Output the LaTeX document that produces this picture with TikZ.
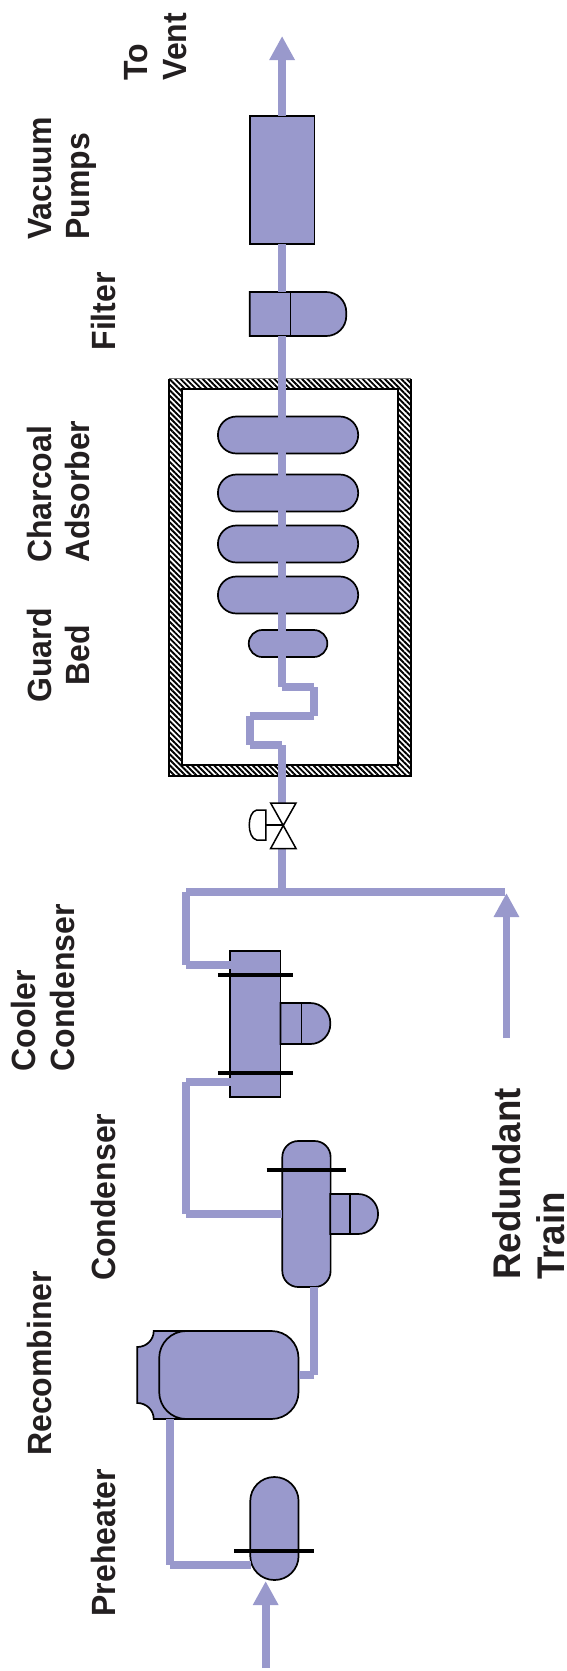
\documentclass[tikz,border=0pt]{standalone}
\usepackage{fontspec}
\setmainfont{Liberation Sans}
\usetikzlibrary{arrows.meta,patterns.meta}
\definecolor{pipecol}{HTML}{9999CC}
\definecolor{inkcol}{HTML}{231F20}
\newcommand{\tallA}[1]{\scalebox{1}[1.05]{#1}}
\tikzset{
  lab/.style={rotate=90,anchor=base west,inner sep=0pt,text=inkcol,font=\bfseries\fontsize{32}{36}\selectfont},
  labbig/.style={lab,font=\bfseries\fontsize{36.7}{42}\selectfont},
  equip/.style={draw=black,fill=pipecol,line width=1.7pt},
  box/.style={equip,rectangle,inner sep=0pt,outer sep=0pt},
  pipe/.style={draw=pipecol,line width=7.7pt,line cap=butt},
  feed/.style={pipe,-{Triangle[length=24pt,width=24pt]}},
  bar/.style={draw=black,line width=3.6pt},
  valvepart/.style={draw=black,fill=white,line width=1.5pt,line join=miter},
}
\begin{document}
\begin{tikzpicture}[x=0.995pt,y=-1pt]
\useasboundingbox (0,0) rectangle (569.85,1671);
% insulated enclosure
\path[pattern={Lines[angle=-45,distance=3.9pt,line width=1.9pt]},pattern color=black,even odd rule]
  (170,379) rectangle (413,776) (183,389) rectangle (400,765);
\draw[black!55,line width=0.8pt] (170,378.6) -- (413,378.6);
\draw[black,line width=1.7pt] (170,378.6) -- (170,776) -- (413,776) -- (413,378.6);
\draw[black,line width=2pt] (183,389) rectangle (400,765);
% adsorbers
\node[box,minimum width=140.3pt,minimum height=37pt,rounded corners=18.5pt] (ads1) at (289.5,435) {};
\node[box,minimum width=140.3pt,minimum height=37pt,rounded corners=18.5pt] (ads2) at (289.5,493) {};
\node[box,minimum width=140.3pt,minimum height=37pt,rounded corners=18.5pt] (ads3) at (289.5,544) {};
\node[box,minimum width=140.3pt,minimum height=37pt,rounded corners=18.5pt] (ads4) at (289.5,595) {};
\node[box,minimum width=78.6pt,minimum height=27pt,rounded corners=13.5pt] (guard) at (289.5,643.5) {};
% pump and filter
\node[box,minimum width=64.7pt,minimum height=128pt] (pump) at (283.5,180) {};
\draw[equip] (251,292) {[rounded corners=20pt] -- (348,292) -- (348,336)} -- (251,336) -- cycle;
\draw[black,line width=1.7pt] (292,292) -- (292,336);
% cooler condenser
\node[box,minimum width=50.7pt,minimum height=146pt] (cooler) at (256.5,1024) {};
\draw[equip] (282,1003) {[rounded corners=20pt] -- (332,1003) -- (332,1044)} -- (282,1044) -- cycle;
\draw[black,line width=1.7pt] (303,1003) -- (303,1044);
% condenser
\node[box,minimum width=48.3pt,minimum height=146pt,rounded corners=16pt] (cond) at (308,1214) {};
\draw[equip] (332,1194) {[rounded corners=20pt] -- (380,1194) -- (380,1234)} -- (332,1234) -- cycle;
\draw[black,line width=1.7pt] (352,1194) -- (352,1234);
% recombiner
\draw[equip] (154.5,1331) -- (200,1331) -- (200,1419) -- (154.5,1419)
  .. controls (154.5,1410) and (147,1403) .. (138,1403) -- (138,1347)
  .. controls (147,1347) and (154.5,1340) .. (154.5,1331) -- cycle;
\node[box,minimum width=139.3pt,minimum height=88pt,rounded corners=27pt] (recomb) at (230,1375) {};
% preheater
\node[box,minimum width=48.3pt,minimum height=103pt,rounded corners=24pt] (preheat) at (275.8,1528.5) {};
% pipe way points
\coordinate (ventTip) at (283.5,36);
\coordinate (filtTop) at (283.5,292);
\coordinate (filtBot) at (283.5,336);
\coordinate (z1) at (283.5,687);
\coordinate (z2) at (315.6,687);
\coordinate (z3) at (315.6,716);
\coordinate (z4) at (251.6,716);
\coordinate (z5) at (251.6,745);
\coordinate (z6) at (283.5,745);
\coordinate (valveTop) at (283.5,803);
\coordinate (valveBot) at (283.5,848);
\coordinate (hdrMid) at (283.5,892);
\coordinate (hdrL) at (187,892);
\coordinate (hdrR) at (508,892);
\coordinate (cOut) at (187,965);
\coordinate (cOutE) at (233,965);
\coordinate (cIn) at (187,1082);
\coordinate (cInE) at (233,1082);
\coordinate (dOut) at (187,1214);
\coordinate (redBase) at (509,1038);
\coordinate (redTip) at (509,893);
\coordinate (dBot) at (315.6,1287);
\coordinate (dBend) at (315.6,1375);
\coordinate (rA) at (171,1419);
\coordinate (rB) at (171,1565);
\coordinate (pIn) at (252.6,1565);
\coordinate (inStart) at (267,1668);
\coordinate (inTip) at (267,1581);
% pipes
\draw[feed] (pump.north) -- (ventTip);
\draw[pipe] (filtTop) -- (pump.south);
\draw[pipe] (filtBot) -- (z1) (z1) -- (z2) (z2) -- (z3) (z3) -- (z4) (z4) -- (z5) (z5) -- (z6) (z6) -- (valveTop);
\draw[pipe] (valveBot) -- (hdrMid);
\draw[pipe] (hdrR) -- (hdrL) (hdrL) -- (cOut) (cOut) -- (cOutE);
\draw[pipe] (cInE) -- (cIn) (cIn) -- (dOut) (dOut) -- (cond.west |- dOut);
\draw[pipe] (dBot) -- (dBend) (dBend) -- (recomb.east |- dBend);
\draw[pipe] (rA) -- (rB) (rB) -- (pIn);
\draw[feed] (redBase) -- (redTip);
\draw[feed] (inStart) -- (inTip);
% bars
\draw[bar] (219,975) -- (294.5,975);
\draw[bar] (219,1073) -- (294.5,1073);
\draw[bar] (268,1170) -- (348,1170);
\draw[bar] (235.6,1551) -- (315.6,1551);
% valve
\draw[valvepart] (267.3,810) -- (258,810) .. controls (248,812) and (248,838) .. (258,840) -- (267.3,840) -- cycle;
\draw[valvepart] (267.3,825) -- (284.7,825);
\draw[valvepart] (272,803) -- (297.5,803) -- (284.7,825.5) -- cycle;
\draw[valvepart] (272,848.5) -- (297.5,848.5) -- (284.7,825.5) -- cycle;
% labels
\node[lab] (l1) at (148,80.7) {\tallA{To}};
\node[lab] (l2) at (187,80.7) {\tallA{Vent}};
\node[lab] (l3) at (51.6,240) {\tallA{Vacuum}};
\node[lab] (l4) at (90,240) {\tallA{Pumps}};
\node[lab] (l5) at (115.6,350.7) {\tallA{Filter}};
\node[lab] (l6) at (51.6,563) {\tallA{Charcoal}};
\node[lab] (l7) at (90,563) {\tallA{Adsorber}};
\node[lab] (l8) at (51.6,702.7) {\tallA{Guard}};
\node[lab] (l9) at (90,685.7) {\tallA{Bed}};
\node[lab] (l10) at (35.6,1071.7) {\tallA{Cooler}};
\node[lab] (l11) at (74.5,1071.7) {\tallA{Condenser}};
\node[lab] (l12) at (115.6,1281) {\tallA{Condenser}};
\node[lab] (l13) at (51.6,1456) {\tallA{Recombiner}};
\node[lab] (l14) at (115.6,1616.7) {\tallA{Preheater}};
\node[labbig] (l15) at (523,1280) {\tallA{Redundant}};
\node[labbig] (l16) at (567,1280) {\tallA{Train}};
\end{tikzpicture}
\end{document}
